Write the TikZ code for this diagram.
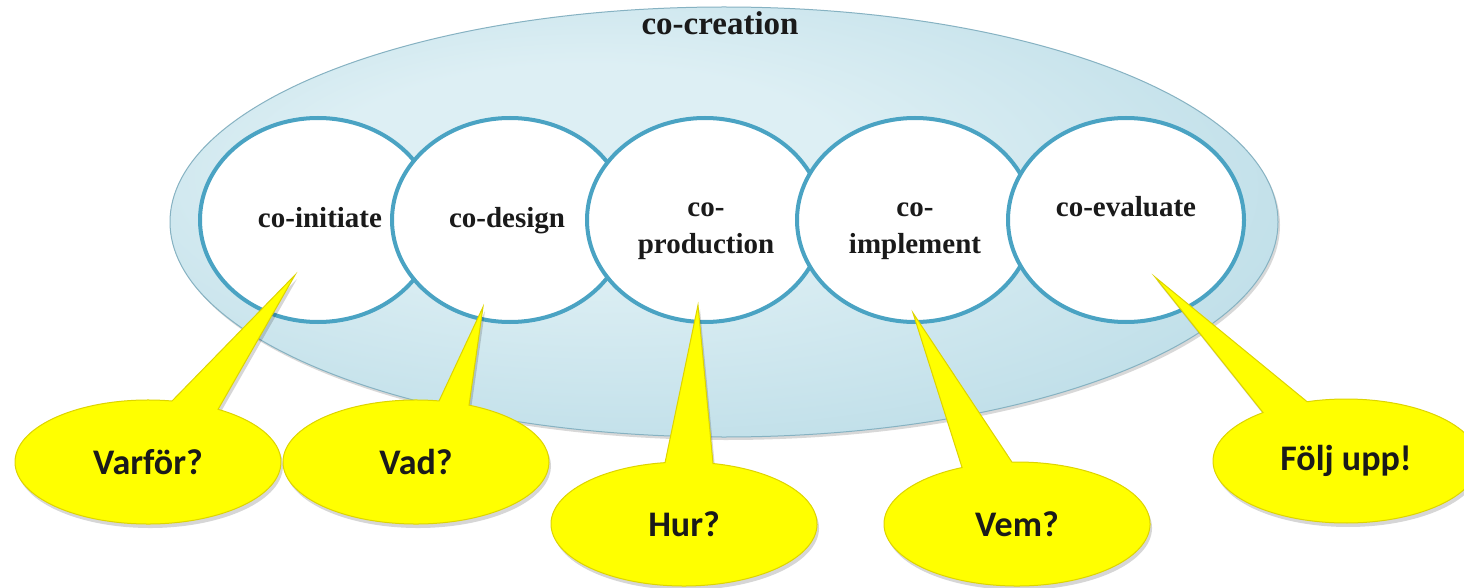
\documentclass[tikz,border=0pt]{standalone}
\usepackage{fontspec}
\usetikzlibrary{shapes.geometric,calc,shadows}
\newfontfamily\ringserif{Liberation Serif}
\newfontfamily\bubblesans{Carlito}
\definecolor{ringblue}{HTML}{4AA3C3}
\definecolor{ellin}{HTML}{DDEFF4}
\definecolor{ellout}{HTML}{9ACADA}
\definecolor{ellline}{HTML}{86B2C2}
\definecolor{bubyellow}{HTML}{FFFF00}
\definecolor{bubedge}{HTML}{DDD400}
\definecolor{txtdark}{HTML}{1A1A1A}
\pgfdeclareradialshading{ccshade}{\pgfpoint{-8bp}{8bp}}{color(0bp)=(ellin); color(12bp)=(ellin); color(56bp)=(ellout)}
\begin{document}
\begin{tikzpicture}[x=1pt,y=-1pt,
  ring/.style={ellipse, minimum width=236pt, minimum height=204pt, inner sep=0pt,
    fill=white, draw=ringblue, line width=4pt},
  ringlabel/.style={font=\ringserif\bfseries\fontsize{29}{36}\selectfont, text=txtdark,
    align=center, anchor=base, inner sep=0pt},
  bubshape/.style={fill=bubyellow, draw=bubedge, line width=1pt, line join=miter,
    drop shadow={shadow xshift=2pt, shadow yshift=-4pt, opacity=.16, fill=black}},
  bubbletext/.style={font=\bubblesans\bfseries\fontsize{36}{40}\selectfont, text=txtdark, inner sep=0pt},
]
\useasboundingbox (0,0) rectangle (1464,588);
\clip (0,0) rectangle (1464,588);
\fill[white] (0,0) rectangle (1464,588);

% big co-creation ellipse
\node (cc) [ellipse, minimum width=1108pt, minimum height=430pt, inner sep=0pt,
  shade, shading=ccshade, draw=ellline, line width=1pt,
  drop shadow={shadow xshift=2pt, shadow yshift=-3pt, opacity=.3, fill=black!50}] at (724,222) {};
\node (title) [font=\ringserif\bfseries\fontsize{33}{40}\selectfont, text=txtdark, anchor=base, inner sep=0pt] at (720,35) {co-creation};

% rings
\node (r1) [ring] at (318,220) {};
\node (r2) [ring] at (510,220) {};
\node (r3) [ring] at (705,220) {};
\node (r4) [ring] at (915,220) {};
\node (r5) [ring] at (1126,220) {};

\node (l1) [ringlabel] at (320,228) {co-initiate};
\node (l2) [ringlabel] at (507,228) {co-design};
\node (l3) [ringlabel] at (706,253) {co-\\production};
\node (l4) [ringlabel] at (915,253) {co-\\implement};
\node (l5) [ringlabel] at (1126,217) {co-evaluate};

% bubble centres and tail tips
\coordinate (b1c) at (148,462);
\coordinate (b2c) at (416,462);
\coordinate (b3c) at (684,524);
\coordinate (b4c) at (1017,524);
\coordinate (b5c) at (1346,461);
\coordinate (t1) at (295,275);
\coordinate (t2) at (483,307);
\coordinate (t3) at (698,305);
\coordinate (t4) at (913,313);
\coordinate (t5) at (1155,277);

% speech bubbles (ellipse + tail as one outline)
\path[bubshape] (b1c) ++(79.6:133pt and 62pt) arc[start angle=79.6, end angle=418.2, x radius=133pt, y radius=62pt] -- (t1) -- cycle;
\node (b1) [bubbletext] at (b1c) {Varför?};

\path[bubshape] (b2c) ++(80.0:133pt and 62pt) arc[start angle=80.0, end angle=426.5, x radius=133pt, y radius=62pt] -- (t2) -- cycle;
\node (b2) [bubbletext] at (b2c) {Vad?};

\path[bubshape] (b3c) ++(98.2:133pt and 62pt) arc[start angle=98.2, end angle=437.4, x radius=133pt, y radius=62pt] -- (t3) -- cycle;
\node (b3) [bubbletext] at (b3c) {Hur?};

\path[bubshape] (b4c) ++(114.4:133pt and 62pt) arc[start angle=114.4, end angle=452.2, x radius=133pt, y radius=62pt] -- (t4) -- cycle;
\node (b4) [bubbletext] at (b4c) {Vem?};

\path[bubshape] (b5c) ++(128.6:133pt and 62pt) arc[start angle=128.6, end angle=467.0, x radius=133pt, y radius=62pt] -- (t5) -- cycle;
\node (b5) [bubbletext] at (b5c) {Följ upp!};
\end{tikzpicture}
\end{document}
